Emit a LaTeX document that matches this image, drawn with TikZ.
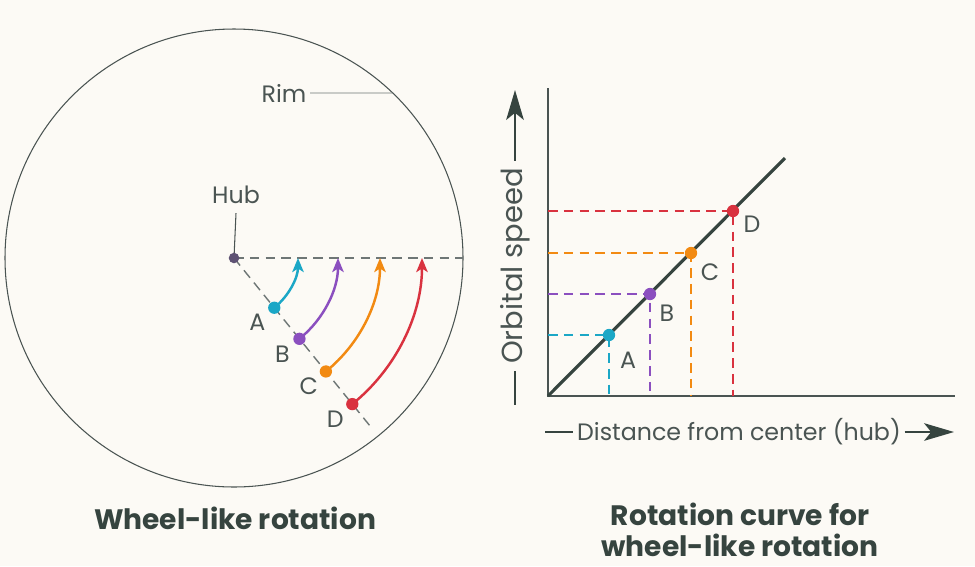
\documentclass[tikz,border=0pt]{standalone}
\usepackage{fontspec}
\setmainfont{Poppins}
\usepackage{xcolor}
\usetikzlibrary{arrows.meta,positioning,calc}
\definecolor{paper}{HTML}{FCFAF5}
\definecolor{ink}{HTML}{4A5452}
\definecolor{inkdark}{HTML}{36443F}
\definecolor{ptA}{HTML}{1BA7C6}
\definecolor{ptB}{HTML}{8B4FBF}
\definecolor{ptC}{HTML}{F28A12}
\definecolor{ptD}{HTML}{D9323F}
\tikzset{
  lbl/.style={font=\fontsize{13.5}{15}\selectfont, text=ink, inner sep=0pt},
  ttl/.style={font=\fontsize{16}{17.5}\selectfont\bfseries, text=inkdark, align=center},
  dot/.style={circle, fill=#1, inner sep=0pt, minimum size=7pt},
  guide/.style={#1, line width=0.8pt, dash pattern=on 5.5pt off 3.5pt},
  swing/.style={#1, line width=1.4pt, -{Stealth[length=8pt,width=6.5pt,inset=2pt]}},
  bigtip/.style={-{Stealth[length=17pt,width=10pt,inset=4pt]}}
}

\begin{document}
\begin{tikzpicture}[x=0.02cm, y=-0.02cm, every node/.style={lbl}]
  \fill[paper] (0,0) rectangle (975,566);
  % ---- wheel: rim, hub, radial guides
  \coordinate (hub) at (234,258);
  \draw[ink, line width=0.6pt] (hub) circle[radius=229];
  \coordinate (rimR) at ($(hub)+(0:229)$);
  \coordinate (rimSE) at ($(hub)+(51:221)$);
  \coordinate (rimNE) at ($(hub)+(-46.1:229)$);
  \draw[guide=ink!80] (hub) -- (rimR);
  \draw[guide=ink!80] (hub) -- (rimSE);
  \node (rim) at (284,93) {Rim};
  \draw[ink!80, line width=0.5pt] ([xshift=2pt]rim.east) -- (rimNE);
  \node (hublbl) at (236,195) {Hub};
  \draw[ink, line width=0.6pt] ([yshift=-5pt]hublbl.south) -- (hub);
  \node[dot=ink!70!ptB, minimum size=6pt] (hubdot) at (hub) {};
  % ---- wheel: points swinging round the hub
  \foreach \name/\r/\col in {A/64/ptA, B/104/ptB, C/146/ptC, D/188/ptD} {
    \node[dot=\col] (w\name) at ($(hub)+(51:\r)$) {};
    \draw[swing=\col] (w\name.center) arc[start angle=51, end angle=0, radius=\r];
    \node (wl\name) at ($(w\name)+(-17,15)$) {\name};
  }
  \node[ttl] (wtitle) at (235,518) {Wheel-like rotation};
  % ---- rotation curve: axes and line
  \coordinate (origin) at (548,396);
  \coordinate (ymax) at (548,88);
  \coordinate (xmax) at (955,396);
  \coordinate (lend) at (785,158);
  \draw[ink, line width=0.9pt] (ymax) -- (origin) -- (xmax);
  \draw[inkdark, line width=1.8pt] (origin) -- (lend);
  \foreach \name/\d/\col/\dx/\dy in {A/61/ptA/19/25, B/102/ptB/17/19, C/143/ptC/19/19, D/185/ptD/19/13} {
    \coordinate (gx\name) at ($(origin)+(\d,0)$);
    \coordinate (gy\name) at ($(origin)+(0,-\d)$);
    \node[dot=\col] (g\name) at ($(origin)+(\d,-\d)$) {};
    \draw[guide=\col] (gy\name) -- (g\name.center) -- (gx\name);
    \node (gl\name) at ($(g\name)+(\dx,\dy)$) {\name};
  }
  % ---- axis labels
  \node[rotate=90, inner sep=4pt, font=\fontsize{16.5}{18}\selectfont] (ylbl) at (515,266) {Orbital speed};
  \coordinate (ybot) at (515,405);
  \coordinate (ytop) at (515,90);
  \draw[inkdark, line width=1.1pt] (ylbl.west) -- (ybot);
  \draw[inkdark, line width=1.1pt, bigtip] (ylbl.east) -- (ytop);
  \node[inner sep=2pt] (xlbl) at (739,432) {Distance from center (hub)};
  \coordinate (xleft) at (545,432);
  \coordinate (xright) at (954,432);
  \draw[inkdark, line width=1.1pt] (xleft) -- (xlbl.west);
  \draw[inkdark, line width=1.1pt, bigtip] (xlbl.east) -- (xright);
  \node[ttl] (gtitle) at (740,530) {Rotation curve for\\wheel-like rotation};
\end{tikzpicture}
\end{document}
